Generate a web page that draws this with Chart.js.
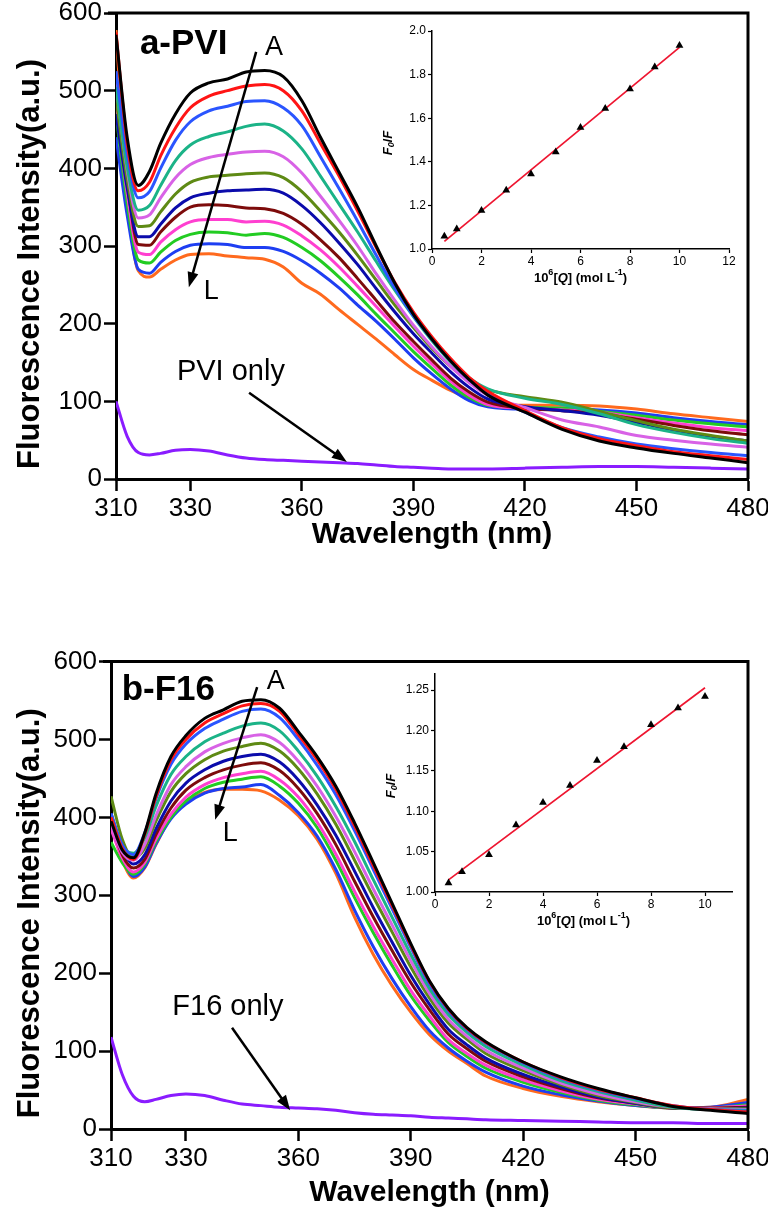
<!DOCTYPE html>
<html>
<head>
<meta charset="utf-8">
<script src="https://cdn.jsdelivr.net/npm/chart.js@4/dist/chart.umd.min.js"></script>
<style>
  body { margin: 0; background: #fff; width: 768px; height: 1211px; position: relative; overflow: hidden; }
  canvas { position: absolute; }
</style>
</head>
<body>
<canvas id="mainA" width="800" height="580" style="left:0;top:-20px"></canvas>
<canvas id="insetA" width="380" height="290" style="left:380px;top:10px"></canvas>
<canvas id="mainB" width="800" height="611" style="left:0;top:600px"></canvas>
<canvas id="insetB" width="380" height="290" style="left:380px;top:650px"></canvas>
<script>
const wavelengths = [310, 313, 316, 319, 322, 326, 330, 335, 340, 345, 350, 355, 360, 365, 370, 375, 380, 385, 390, 395, 400, 405, 410, 420, 430, 440, 450, 460, 470, 480];
const wavelengthTicks = [310, 330, 360, 390, 420, 450, 480];
const intensityTicks = [0, 100, 200, 300, 400, 500, 600];
const curveNames = ['A', 'B', 'C', 'D', 'E', 'F', 'G', 'H', 'I', 'J', 'K', 'L'];

// panel a - PVI
const pviA = [572, 440, 378, 396, 432, 470, 497, 510, 515, 524, 526, 518, 487, 440, 395, 350, 300, 252, 212, 180, 152, 128, 108, 86, 64, 49, 40, 33, 27, 21];
const pviB = [575, 432, 371, 382, 416, 452, 478, 493, 500, 506, 508, 500, 474, 432, 390, 345, 298, 253, 215, 183, 155, 131, 113, 88, 66, 52, 43, 35, 30, 25];
const pviC = [525, 418, 362, 370, 400, 436, 460, 474, 480, 486, 487, 478, 455, 415, 374, 332, 288, 246, 210, 180, 152, 128, 110, 86, 66, 54, 45, 39, 34, 30];
const pviD = [505, 402, 346, 352, 378, 410, 430, 441, 447, 454, 457, 448, 425, 390, 354, 318, 280, 243, 209, 178, 151, 130, 116, 104, 96, 84, 70, 60, 52, 46];
const pviE = [510, 398, 336, 340, 362, 388, 405, 414, 418, 421, 422, 415, 394, 364, 333, 300, 264, 230, 198, 170, 145, 124, 108, 92, 76, 67, 56, 50, 45, 41];
const pviF = [490, 386, 325, 326, 344, 367, 382, 389, 391, 393, 394, 388, 370, 345, 318, 288, 256, 224, 195, 168, 145, 127, 115, 106, 99, 87, 75, 64, 56, 49];
const pviG = [470, 375, 312, 312, 328, 349, 362, 368, 371, 372, 373, 368, 352, 330, 304, 276, 245, 215, 187, 162, 138, 118, 103, 93, 88, 82, 73, 63, 55, 49];
const pviH = [500, 382, 302, 301, 318, 337, 350, 353, 352, 349, 348, 342, 328, 308, 285, 258, 230, 202, 177, 153, 130, 112, 99, 91, 88, 84, 77, 69, 62, 57];
const pviI = [480, 368, 292, 289, 305, 321, 331, 334, 334, 331, 332, 327, 313, 295, 273, 248, 222, 196, 171, 148, 126, 108, 96, 91, 89, 86, 79, 72, 66, 62];
const pviJ = [470, 355, 282, 278, 292, 307, 315, 318, 317, 314, 316, 311, 298, 281, 260, 237, 212, 188, 164, 142, 121, 105, 95, 92, 91, 87, 82, 76, 71, 67];
const pviK = [440, 340, 270, 265, 279, 293, 301, 303, 302, 298, 298, 293, 281, 265, 246, 224, 203, 180, 156, 135, 116, 101, 93, 90, 91, 89, 85, 79, 74, 70];
const pviL = [578, 365, 268, 260, 270, 282, 289, 290, 287, 285, 283, 273, 252, 238, 218, 199, 180, 160, 141, 127, 114, 104, 98, 95, 95, 94, 90, 84, 79, 74];
const pviOnly = [100, 55, 34, 31, 33, 37, 38, 36, 31, 27, 25, 24, 23, 22, 21, 20, 18, 16, 15, 14, 13, 13, 13, 14, 15, 16, 16, 15, 14, 13];

// panel b - F16
const f16A = [395, 358, 348, 380, 430, 478, 505, 527, 538, 549, 551, 540, 510, 478, 440, 393, 342, 290, 238, 190, 155, 130, 112, 86, 67, 52, 40, 29, 24, 20];
const f16B = [400, 360, 346, 378, 426, 474, 500, 521, 533, 543, 546, 536, 506, 474, 436, 389, 338, 287, 236, 189, 154, 129, 111, 86, 66, 51, 40, 30, 25, 22];
const f16C = [405, 365, 352, 380, 424, 468, 494, 514, 526, 536, 539, 528, 500, 467, 429, 383, 333, 283, 233, 186, 152, 128, 110, 85, 65, 50, 39, 30, 25, 23];
const f16D = [398, 362, 354, 374, 414, 455, 478, 497, 508, 517, 521, 511, 485, 453, 414, 369, 320, 272, 224, 180, 147, 124, 106, 82, 62, 48, 37, 28, 25, 24];
const f16E = [390, 355, 345, 365, 402, 442, 465, 484, 495, 502, 506, 496, 472, 440, 401, 356, 308, 262, 216, 174, 141, 119, 101, 78, 59, 45, 35, 28, 26, 25];
const f16F = [427, 372, 348, 360, 395, 433, 456, 474, 485, 491, 495, 485, 462, 430, 391, 345, 298, 253, 208, 168, 136, 115, 97, 75, 57, 43, 34, 27, 26, 26];
const f16G = [405, 360, 340, 352, 385, 421, 444, 461, 472, 478, 481, 471, 448, 416, 377, 331, 284, 240, 197, 160, 128, 108, 91, 70, 54, 41, 33, 27, 26, 27];
const f16H = [395, 352, 335, 346, 378, 412, 435, 451, 461, 467, 470, 460, 437, 405, 365, 318, 272, 229, 188, 153, 122, 103, 87, 67, 52, 40, 33, 27, 27, 28];
const f16I = [385, 348, 330, 342, 372, 404, 426, 442, 451, 456, 459, 448, 426, 394, 353, 305, 260, 218, 178, 145, 115, 97, 82, 63, 49, 38, 32, 27, 27, 30];
const f16J = [368, 342, 327, 340, 369, 400, 421, 437, 445, 449, 452, 440, 418, 387, 345, 297, 252, 210, 171, 139, 111, 93, 78, 60, 47, 37, 31, 27, 27, 31];
const f16K = [400, 350, 324, 336, 366, 398, 417, 431, 437, 439, 442, 428, 406, 376, 333, 281, 234, 193, 157, 126, 104, 87, 73, 55, 44, 36, 30, 27, 28, 34];
const f16L = [392, 345, 322, 335, 365, 400, 419, 432, 436, 436, 434, 422, 402, 372, 328, 272, 224, 184, 150, 121, 100, 84, 68, 52, 42, 35, 30, 27, 28, 38];
const f16Only = [118, 70, 42, 35, 38, 43, 45, 43, 37, 32, 30, 28, 27, 26, 24, 21, 19, 18, 17, 15, 14, 13, 12, 11, 10, 9, 8, 8, 7, 7];

// Stern-Volmer insets
const quencherConc = [0.5, 1, 2, 3, 4, 5, 6, 7, 8, 9, 10];
const pviRatio = [1.058, 1.092, 1.177, 1.269, 1.344, 1.445, 1.557, 1.645, 1.734, 1.835, 1.934];
const f16Ratio = [1.011, 1.025, 1.046, 1.083, 1.111, 1.132, 1.163, 1.180, 1.207, 1.228, 1.242];
const fitConc = [0.5, 10];
const pviFit = [1.035, 1.925];
const f16Fit = [1.015, 1.253];
const pviInsetXTicks = [0, 2, 4, 6, 8, 10, 12];
const pviInsetYTicks = [1.0, 1.2, 1.4, 1.6, 1.8, 2.0];
const f16InsetXTicks = [0, 2, 4, 6, 8, 10];
const f16InsetYTicks = [1.00, 1.05, 1.10, 1.15, 1.20, 1.25];

const curveColors = ['#000000', '#ff1414', '#2a55ff', '#1bb387', '#d862e6', '#5e8a14', '#0b0bab', '#7d0b0b', '#ff3fd0', '#22cc22', '#1e3ef2', '#ff6a1e'];
const onlyColor = '#8a1cff';
const SANS = "'Liberation Sans', Arial, sans-serif";

Chart.defaults.font.family = SANS;
Chart.defaults.color = '#000';

function toPoints(xs, ys) {
  return ys.map((v, i) => ({ x: xs[i], y: v }));
}

function drawRich(ctx, parts, cx, cy, angle) {
  ctx.save();
  ctx.translate(cx, cy);
  ctx.rotate(angle || 0);
  let w = 0;
  parts.forEach(p => { ctx.font = p.font; w += ctx.measureText(p.text).width; });
  let x = -w / 2;
  ctx.textAlign = 'left';
  ctx.textBaseline = 'middle';
  ctx.fillStyle = '#000';
  parts.forEach(p => {
    ctx.font = p.font;
    ctx.fillText(p.text, x, p.dy || 0);
    x += ctx.measureText(p.text).width;
  });
  ctx.restore();
}

function drawArrow(ctx, x1, y1, x2, y2) {
  const a = Math.atan2(y2 - y1, x2 - x1);
  const hl = 15, hw = 5.5;
  ctx.save();
  ctx.strokeStyle = '#000';
  ctx.fillStyle = '#000';
  ctx.lineWidth = 2.5;
  ctx.beginPath();
  ctx.moveTo(x1, y1);
  ctx.lineTo(x2 - hl * 0.8 * Math.cos(a), y2 - hl * 0.8 * Math.sin(a));
  ctx.stroke();
  ctx.beginPath();
  ctx.moveTo(x2, y2);
  ctx.lineTo(x2 - hl * Math.cos(a) + hw * Math.sin(a), y2 - hl * Math.sin(a) - hw * Math.cos(a));
  ctx.lineTo(x2 - hl * Math.cos(a) - hw * Math.sin(a), y2 - hl * Math.sin(a) + hw * Math.cos(a));
  ctx.closePath();
  ctx.fill();
  ctx.restore();
}

// top and right frame of the main plots
const framePlugin = {
  id: 'frame',
  afterDraw(chart) {
    const { ctx, chartArea: a } = chart;
    ctx.save();
    ctx.strokeStyle = '#000';
    ctx.lineWidth = 3;
    ctx.beginPath();
    ctx.moveTo(a.left - 8, a.top);
    ctx.lineTo(a.right, a.top);
    ctx.lineTo(a.right, a.bottom);
    ctx.stroke();
    ctx.restore();
  }
};

// labels and arrows of the main plots, placed in data units
const notesPlugin = {
  id: 'notes',
  afterDatasetsDraw(chart, args, opts) {
    const { ctx, chartArea: a } = chart;
    const sx = chart.scales.x, sy = chart.scales.y;
    const px = v => sx.getPixelForValue(v), py = v => sy.getPixelForValue(v);
    drawRich(ctx, [{ text: opts.tag[0], font: 'bold 35px ' + SANS }], px(opts.tag[1]), py(opts.tag[2]));
    drawRich(ctx, [{ text: 'A', font: '27px ' + SANS }], px(opts.a[0]), py(opts.a[1]));
    drawRich(ctx, [{ text: 'L', font: '27px ' + SANS }], px(opts.l[0]), py(opts.l[1]));
    drawArrow(ctx, px(opts.arrow[0]), py(opts.arrow[1]), px(opts.arrow[2]), py(opts.arrow[3]));
    drawRich(ctx, [{ text: opts.only[0], font: '29px ' + SANS }], px(opts.only[1]), py(opts.only[2]));
    drawArrow(ctx, px(opts.onlyArrow[0]), py(opts.onlyArrow[1]), px(opts.onlyArrow[2]), py(opts.onlyArrow[3]));
    drawRich(ctx, [{ text: 'Fluorescence Intensity(a.u.)', font: 'bold 31px ' + SANS }], 30, (a.top + a.bottom) / 2 + 18, -Math.PI / 2);
  }
};

function buildMain(id, curves, only, lay) {
  const datasets = [{ label: lay.onlyName, data: toPoints(wavelengths, only), borderColor: onlyColor }];
  curves.forEach((c, i) => {
    datasets.push({ label: curveNames[i], data: toPoints(wavelengths, c), borderColor: curveColors[i] });
  });
  return new Chart(document.getElementById(id), {
    type: 'line',
    data: { datasets },
    options: {
      responsive: false,
      animation: false,
      devicePixelRatio: 1,
      layout: { padding: { top: lay.top, right: 52, left: 0, bottom: 0 } },
      elements: {
        point: { radius: 0 },
        line: { borderWidth: 3, tension: 0.4, cubicInterpolationMode: 'monotone', fill: false }
      },
      plugins: { legend: { display: false }, tooltip: { enabled: false }, notes: lay.notes },
      scales: {
        x: {
          type: 'linear', min: 310, max: 480,
          afterBuildTicks: ax => { ax.ticks = wavelengthTicks.map(v => ({ value: v })); },
          afterFit: s => { s.height = lay.xh; },
          border: { display: true, width: 3, color: '#000' },
          grid: { drawOnChartArea: false, tickLength: 12, tickWidth: 2.5, tickColor: '#000' },
          ticks: { color: '#000', font: { size: 26 }, padding: 2, maxRotation: 0, autoSkip: false },
          title: { display: true, text: 'Wavelength (nm)', color: '#000', font: { size: 30, weight: 'bold' }, padding: { top: 0, bottom: lay.titlePad } }
        },
        y: {
          min: 0, max: 600,
          afterBuildTicks: ax => { ax.ticks = intensityTicks.map(v => ({ value: v })); },
          afterFit: s => { s.width = lay.yw; },
          border: { display: true, width: 3, color: '#000' },
          grid: { drawOnChartArea: false, tickLength: 12, tickWidth: 2.5, tickColor: '#000' },
          ticks: { color: '#000', font: { size: 26 }, padding: 2 }
        }
      }
    },
    plugins: [framePlugin, notesPlugin]
  });
}

// inset axis titles with sub/superscripts
const insetTitlePlugin = {
  id: 'insetTitles',
  afterDraw(chart) {
    const { ctx, chartArea: a } = chart;
    const b = 'bold 13px ' + SANS, bs = 'bold 9px ' + SANS, bi = 'italic bold 13px ' + SANS;
    drawRich(ctx, [
      { text: '10', font: b }, { text: '6', font: bs, dy: -5 }, { text: '[', font: b }, { text: 'Q', font: bi },
      { text: '] (mol L', font: b }, { text: '-1', font: bs, dy: -5 }, { text: ')', font: b }
    ], (a.left + a.right) / 2, a.bottom + 29);
    drawRich(ctx, [
      { text: 'F', font: bi }, { text: '0', font: 'italic bold 9px ' + SANS, dy: 4 }, { text: '/', font: b }, { text: 'F', font: bi }
    ], a.left - 44, (a.top + a.bottom) / 2 + 3, -Math.PI / 2);
  }
};

function buildInset(id, ratios, fit, xTicks, yTicks, xMax, yMax, digits, lay) {
  return new Chart(document.getElementById(id), {
    type: 'scatter',
    data: {
      datasets: [
        { data: toPoints(quencherConc, ratios), pointStyle: 'triangle', pointRadius: 4.5, backgroundColor: '#000', borderColor: '#000', borderWidth: 0 },
        { data: toPoints(fitConc, fit), showLine: true, borderColor: '#ee1530', borderWidth: 1.7, pointRadius: 0 }
      ]
    },
    options: {
      responsive: false,
      animation: false,
      devicePixelRatio: 1,
      layout: { padding: { top: lay.top, right: lay.right, left: 0, bottom: 0 } },
      plugins: { legend: { display: false }, tooltip: { enabled: false } },
      scales: {
        x: {
          type: 'linear', min: 0, max: xMax,
          afterBuildTicks: ax => { ax.ticks = xTicks.map(v => ({ value: v })); },
          afterFit: s => { s.height = lay.xh; },
          border: { display: true, width: 1.5, color: '#000' },
          grid: { drawOnChartArea: false, tickLength: 4, tickWidth: 1.2, tickColor: '#000' },
          ticks: { color: '#000', font: { size: 12 }, padding: 1, maxRotation: 0, autoSkip: false }
        },
        y: {
          min: 1, max: yMax,
          afterBuildTicks: ax => { ax.ticks = yTicks.map(v => ({ value: v })); },
          afterFit: s => { s.width = lay.yw; },
          border: { display: true, width: 1.5, color: '#000' },
          grid: { drawOnChartArea: false, tickLength: 4, tickWidth: 1.2, tickColor: '#000' },
          ticks: { color: '#000', font: { size: 12 }, padding: 2, callback: v => Number(v).toFixed(digits) }
        }
      }
    },
    plugins: [insetTitlePlugin]
  });
}

buildMain('mainA', [pviA, pviB, pviC, pviD, pviE, pviF, pviG, pviH, pviI, pviJ, pviK, pviL], pviOnly, {
  onlyName: 'PVI only', top: 33, xh: 81, yw: 116, titlePad: 7,
  notes: {
    tag: ['a-PVI', 328.2, 559], a: [352.5, 556], l: [335.6, 241],
    arrow: [347.7, 550, 329.6, 247],
    only: ['PVI only', 340.9, 138], onlyArrow: [345.8, 111, 372.1, 22]
  }
});

buildMain('mainB', [f16A, f16B, f16C, f16D, f16E, f16F, f16G, f16H, f16I, f16J, f16K, f16L], f16Only, {
  onlyName: 'F16 only', top: 61.5, xh: 82, yw: 111, titlePad: 0,
  notes: {
    tag: ['b-F16', 325.3, 563], a: [354, 574], l: [341.8, 379],
    arrow: [349, 567, 337.8, 397],
    only: ['F16 only', 341.2, 157], onlyArrow: [342.3, 130, 357.8, 24]
  }
});

buildInset('insetA', pviRatio, pviFit, pviInsetXTicks, pviInsetYTicks, 12, 2.0, 1, { top: 21, right: 31, xh: 51, yw: 52 });
buildInset('insetB', f16Ratio, f16Fit, f16InsetXTicks, f16InsetYTicks, 11, 1.27, 2, { top: 24, right: 28, xh: 48, yw: 55 });
</script>
</body>
</html>
